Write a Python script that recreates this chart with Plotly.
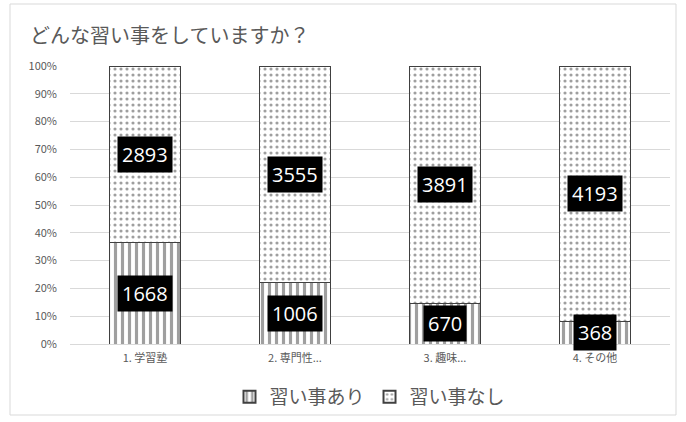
import plotly.graph_objects as go

categories = ["1. 学習塾", "2. 専門性...", "3. 趣味...", "4. その他"]
ari = [1668, 1006, 670, 368]
nashi = [2893, 3555, 3891, 4193]
series_names = ["習い事あり", "習い事なし"]
title_text = "どんな習い事をしていますか？"

FONT = "Noto Sans CJK JP"
W, H = 686, 422
L, R, T, B = 70, 16, 66, 78

fig = go.Figure()
fig.add_trace(go.Bar(
    x=categories, y=ari, name=series_names[0],
    marker=dict(color="white", line=dict(color="#404040", width=1),
                pattern=dict(shape="|", fgcolor="#404040", bgcolor="white",
                             size=7, solidity=0.45)),
    width=0.47,
))
fig.add_trace(go.Bar(
    x=categories, y=nashi, name=series_names[1],
    marker=dict(color="white", line=dict(color="#404040", width=1),
                pattern=dict(shape=".", fgcolor="#404040", bgcolor="white",
                             size=6, solidity=0.22)),
    width=0.47,
))

annotations = []
for c, a, n in zip(categories, ari, nashi):
    tot = a + n
    pa = a / tot * 100
    pn = n / tot * 100
    for val, yc in ((a, pa / 2), (n, pa + pn / 2)):
        annotations.append(dict(
            x=c, y=yc, xref="x", yref="y", text=str(val), showarrow=False,
            font=dict(family="Open Sans", size=20, color="white"),
            bgcolor="black", borderpad=4,
        ))

pw = W - L - R
ph = H - T - B
shapes = [dict(type="rect", xref="paper", yref="paper",
               x0=(10 - L) / pw, x1=(676 - L) / pw,
               y0=(H - B - 415) / ph, y1=(H - B - 4) / ph,
               line=dict(color="#d9d9d9", width=1), fillcolor="rgba(0,0,0,0)", layer="below")]

fig.update_layout(
    width=W, height=H,
    margin=dict(l=L, r=R, t=T, b=B, autoexpand=False),
    barmode="stack", barnorm="percent",
    paper_bgcolor="white", plot_bgcolor="white",
    font=dict(family=FONT, color="#595959"),
    title=dict(text=title_text, x=30 / W, xanchor="left", xref="container",
               y=1 - 36 / H, yanchor="middle", yref="container",
               font=dict(family=FONT, size=20, color="#595959")),
    legend=dict(orientation="h", x=0.5, xanchor="center", y=-53 / ph, yanchor="middle",
                font=dict(family=FONT, size=19, color="#595959"),
                bgcolor="rgba(0,0,0,0)",
                traceorder="normal", itemwidth=30, itemsizing="constant"),
    annotations=annotations,
    shapes=shapes,
    showlegend=True,
)
fig.update_yaxes(range=[0, 100], tickvals=list(range(0, 101, 10)),
                 ticktext=[f"{v}%" for v in range(0, 101, 10)],
                 showgrid=True, gridcolor="#d9d9d9", gridwidth=1,
                 zeroline=False, showline=False,
                 tickfont=dict(family=FONT, size=11, color="#595959"),
                 ticks="", ticklabelstandoff=12)
fig.update_xaxes(showgrid=False, showline=True, linecolor="#d9d9d9",
                 tickfont=dict(family=FONT, size=11, color="#595959"), ticks="",
                 ticklabelstandoff=4)

fig.write_html("out.html", config={"displayModeBar": False},
               post_script="document.body.style.margin='0';")
